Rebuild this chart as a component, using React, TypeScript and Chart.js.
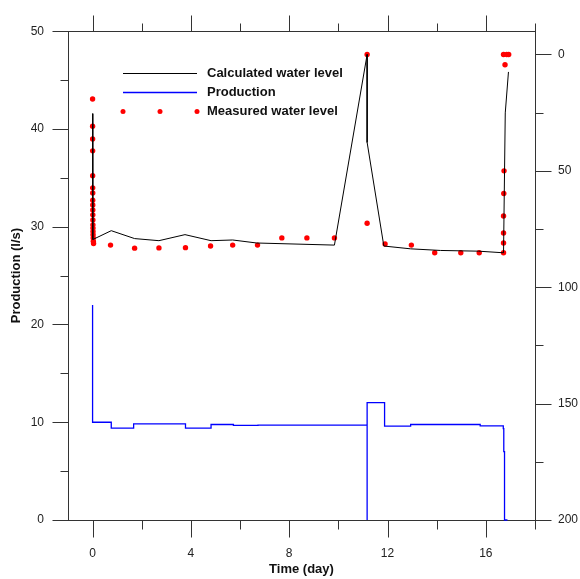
import React, { useEffect, useRef } from "react";
import { Chart, registerables } from "chart.js";

Chart.register(...registerables);

// ---- data ----
const xTickLabels = [0, 4, 8, 12, 16];
const xMinorTicks = [2, 6, 10, 14, 18];
const yTickLabels = [0, 10, 20, 30, 40, 50];
const yMinorTicks = [5, 15, 25, 35, 45];
const y2TickLabels = [0, 50, 100, 150, 200];
const y2MinorTicks = [25, 75, 125, 175];

// Calculated water level (right axis, drawdown)
const calcDays = [0, 0.01, 0.76, 1.71, 2.7, 3.76, 4.82, 5.7, 6.68, 9.84, 11.17, 11.17, 11.85, 12.94, 14.16, 15.7, 16.72, 16.79, 16.92];
const calcLevel = [25.4, 79.5, 75.7, 79.1, 80.0, 77.4, 80.0, 79.7, 81.0, 81.9, 0, 37.8, 82.3, 83.5, 84.2, 84.5, 85.2, 25.1, 7.5];

// Measured water level (right axis)
const measDays = [
  0.0, 0.001, 0.002, 0.003, 0.004, 0.005, 0.006, 0.007, 0.008, 0.009, 0.01, 0.012, 0.014, 0.016, 0.018, 0.02, 0.025, 0.03, 0.04,
  0.73, 1.71, 2.7, 3.78, 4.8, 5.7, 6.71, 7.7, 8.72, 9.84, 11.17, 11.17, 11.9, 12.97, 13.92, 14.98, 15.73, 16.72,
  16.72, 16.72, 16.72, 16.73, 16.74, 16.78, 16.72, 16.85, 16.93,
];
const measLevel = [
  19.1, 30.8, 36.3, 41.4, 52.1, 57.3, 59.5, 62.6, 64.7, 66.8, 68.9, 71.1, 73.2, 74.6, 76.0, 77.4, 78.8, 80.2, 81.2,
  81.9, 83.2, 83.1, 83.0, 82.3, 81.9, 81.9, 78.8, 78.8, 78.8, 0, 72.5, 81.4, 81.9, 85.2, 85.2, 85.2, 85.2,
  81.0, 76.7, 69.4, 59.7, 50.0, 4.4, 0, 0, 0,
];

// Production (left axis, l/s), step changes
const prodDays = [0, 0, 0.76, 1.67, 3.78, 4.82, 5.73, 6.73, 11.17, 11.17, 11.88, 12.94, 15.77, 16.71, 16.73, 16.76, 16.88];
const prodRate = [22, 10.0, 9.4, 9.83, 9.4, 9.77, 9.67, 9.7, 0, 12, 9.6, 9.77, 9.63, 9.35, 7.0, 0, 0];

const FONT = "'Liberation Sans', Arial, Helvetica, sans-serif";
const AXIS_COLOR = "#333";
const TEXT_COLOR = "#222";

const toPoints = (xs: number[], ys: number[]) => xs.map((x, i) => ({ x, y: ys[i] }));

const framePlugin = {
  id: "frame",
  beforeDatasetsDraw(chart: any) {
    const { ctx, chartArea: a, scales } = chart;
    ctx.save();
    ctx.strokeStyle = AXIS_COLOR;
    ctx.lineWidth = 1;
    const L = Math.round(a.left) + 0.5;
    const R = Math.round(a.right) + 0.5;
    const T = Math.round(a.top) + 0.5;
    const B = Math.round(a.bottom) + 0.5;
    ctx.strokeRect(L, T, R - L, B - T);
    const seg = (x1: number, y1: number, x2: number, y2: number) => {
      ctx.beginPath();
      ctx.moveTo(x1, y1);
      ctx.lineTo(x2, y2);
      ctx.stroke();
    };
    const px = (s: any, v: number) => Math.round(s.getPixelForValue(v)) + 0.5;
    xTickLabels.forEach((v) => {
      const x = px(scales.x, v);
      seg(x, B, x, B + 17);
      seg(x, T, x, T - 16);
    });
    xMinorTicks.forEach((v) => {
      const x = px(scales.x, v);
      seg(x, B, x, B + 9);
      seg(x, T, x, T - 8);
    });
    yTickLabels.forEach((v) => {
      const y = px(scales.y, v);
      seg(L, y, L - 16, y);
    });
    yMinorTicks.forEach((v) => {
      const y = px(scales.y, v);
      seg(L, y, L - 8, y);
    });
    y2TickLabels.forEach((v) => {
      const y = px(scales.y2, v);
      seg(R, y, R + 16, y);
    });
    y2MinorTicks.forEach((v) => {
      const y = px(scales.y2, v);
      seg(R, y, R + 8, y);
    });
    ctx.restore();
  },
  afterDraw(chart: any) {
    const { ctx } = chart;
    const ds = chart.data.datasets;
    ctx.save();
    const x1 = 123;
    const x2 = 197;
    const tx = 207;
    const rows = [73, 92, 111];
    ctx.font = `bold 13px ${FONT}`;
    ctx.textBaseline = "middle";
    ctx.textAlign = "left";
    ds.forEach((d: any, i: number) => {
      const y = rows[i] + 0.5;
      if (d.showLine === false) {
        ctx.fillStyle = d.backgroundColor;
        [x1, (x1 + x2) / 2, x2].forEach((cx) => {
          ctx.beginPath();
          ctx.arc(cx, y, 2.5, 0, Math.PI * 2);
          ctx.fill();
        });
      } else {
        ctx.strokeStyle = d.borderColor;
        ctx.lineWidth = d.borderWidth;
        ctx.beginPath();
        ctx.moveTo(x1, y);
        ctx.lineTo(x2, y);
        ctx.stroke();
      }
      ctx.fillStyle = "#111";
      ctx.fillText(d.label, tx, y);
    });
    ctx.restore();
  },
};

export default function App() {
  const ref = useRef<HTMLCanvasElement>(null);
  useEffect(() => {
    if (!ref.current) return;
    Chart.defaults.font.family = FONT;
    const tickFont = { family: FONT, size: 12 };
    const titleFont = { family: FONT, size: 13, weight: "bold" as const };
    const chart = new Chart(ref.current, {
      type: "line",
      data: {
        datasets: [
          {
            label: "Calculated water level",
            data: toPoints(calcDays, calcLevel),
            yAxisID: "y2",
            borderColor: "#000000",
            backgroundColor: "#000000",
            borderWidth: 1,
            pointRadius: 0,
            tension: 0,
          },
          {
            label: "Production",
            data: toPoints(prodDays, prodRate),
            yAxisID: "y",
            borderColor: "#0000ff",
            backgroundColor: "#0000ff",
            borderWidth: 1.3,
            pointRadius: 0,
            stepped: true,
            clip: 4,
          },
          {
            label: "Measured water level",
            data: toPoints(measDays, measLevel),
            yAxisID: "y2",
            showLine: false,
            borderColor: "#ff0000",
            backgroundColor: "#ff0000",
            pointRadius: 2.7,
            pointBorderWidth: 0,
            clip: 6,
          },
        ],
      } as any,
      options: {
        animation: false,
        responsive: false,
        events: [],
        layout: { padding: { top: 25, left: 0, right: 0, bottom: 0 } },
        plugins: { legend: { display: false }, tooltip: { enabled: false } },
        scales: {
          x: {
            type: "linear",
            position: "bottom",
            min: -1,
            max: 18,
            grid: { display: false, drawTicks: false },
            border: { display: false },
            ticks: { padding: 26, font: tickFont, color: TEXT_COLOR, maxRotation: 0, autoSkip: false, callback: (v: any) => String(v) },
            afterBuildTicks: (s: any) => {
              s.ticks = xTickLabels.map((v) => ({ value: v }));
            },
            afterFit: (s: any) => {
              s.height = 59;
            },
            title: { display: true, text: "Time (day)", font: titleFont, color: "#111", padding: { top: 0, bottom: 2 } },
          },
          y: {
            type: "linear",
            position: "left",
            min: 0,
            max: 50,
            grid: { display: false, drawTicks: false },
            border: { display: false },
            ticks: { padding: 24, font: tickFont, color: TEXT_COLOR, autoSkip: false, callback: (v: any) => String(v) },
            afterBuildTicks: (s: any) => {
              s.ticks = yTickLabels.map((v) => ({ value: v }));
            },
            afterFit: (s: any) => {
              s.width = 68;
            },
            title: { display: true, text: "Production (l/s)", font: titleFont, color: "#111", padding: { top: 9, bottom: 0 } },
          },
          y2: {
            type: "linear",
            position: "right",
            min: -10,
            max: 200,
            reverse: true,
            grid: { display: false, drawTicks: false },
            border: { display: false },
            ticks: { padding: 23, font: tickFont, color: TEXT_COLOR, autoSkip: false, callback: (v: any) => String(v) },
            afterBuildTicks: (s: any) => {
              s.ticks = y2TickLabels.map((v) => ({ value: v }));
            },
            afterFit: (s: any) => {
              s.width = 45;
            },
          },
        },
      } as any,
      plugins: [framePlugin],
    });
    return () => chart.destroy();
  }, []);
  return (
    <div style={{ position: "fixed", left: 0, top: 0, width: 580, height: 579, background: "#fff" }}>
      <canvas ref={ref} width={580} height={579} style={{ display: "block", width: 580, height: 579 }} />
    </div>
  );
}
